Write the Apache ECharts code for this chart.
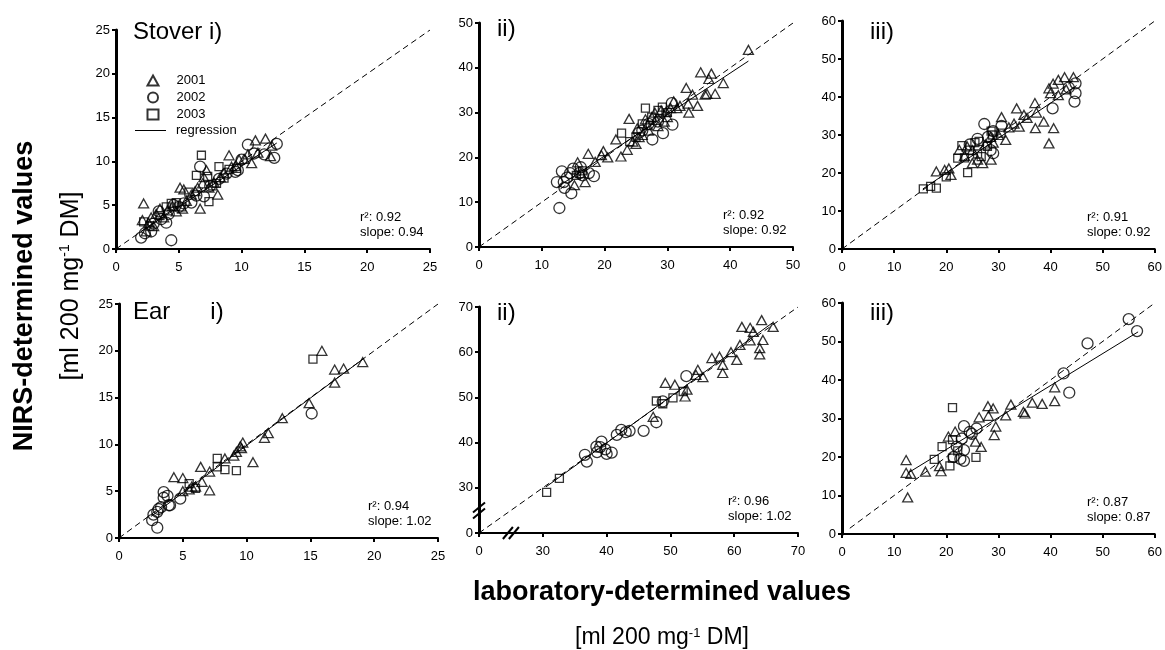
<!DOCTYPE html>
<html>
<head>
<meta charset="utf-8">
<script src="https://cdn.jsdelivr.net/npm/echarts@6/dist/echarts.min.js"></script>
<style>html,body{margin:0;padding:0;background:#fff}#c{width:1165px;height:650px}</style>
</head>
<body>
<div id="c"></div>
<script>
// ---------------- DATA ----------------
const panelTitles = ['Stover i)', 'ii)', 'iii)', 'Ear      i)', 'ii)', 'iii)'];
const r2Values = ['0.92', '0.92', '0.91', '0.94', '0.96', '0.87'];
const slopeValues = ['0.94', '0.92', '0.92', '1.02', '1.02', '0.87'];
const axisMin = [0, 0, 0, 0, 20, 0];
const axisMax = [25, 50, 60, 25, 70, 60];
const axisStep = [5, 10, 10, 5, 10, 10];
const yearNames = ['2001', '2002', '2003'];
const lineName = 'regression';

const stoverI_2001 = [[2.2,5.2],[2.1,3.3],[2.4,2.0],[2.6,3.0],[2.8,3.6],[3.0,2.6],[3.2,4.0],[3.5,4.6],[3.8,3.6],[4.1,4.4],[4.5,4.9],[4.8,4.3],[5.1,7.0],[5.4,6.8],[5.3,4.6],[5.6,5.5],[6.0,6.2],[6.3,6.6],[6.5,7.0],[6.7,4.6],[6.9,7.5],[7.0,8.2],[7.2,9.0],[7.4,7.0],[7.8,7.6],[8.1,6.2],[8.3,8.2],[8.6,8.7],[9.0,10.7],[9.2,9.4],[9.5,9.5],[9.8,10.2],[10.2,10.3],[10.5,10.8],[10.8,9.8],[11.1,12.4],[11.3,11.0],[11.9,12.6],[12.3,10.6],[12.4,11.8]];
const stoverI_2002 = [[2.0,1.3],[2.3,1.8],[2.8,2.0],[3.0,2.9],[3.4,4.3],[3.6,3.4],[4.0,3.0],[4.4,1.0],[4.2,4.0],[4.6,5.0],[5.0,4.8],[5.4,5.2],[6.0,5.3],[6.4,6.1],[6.7,9.4],[7.0,6.0],[7.5,7.2],[8.2,8.0],[8.8,8.6],[9.5,8.8],[9.7,9.0],[10.0,10.2],[10.5,11.9],[11.0,10.9],[11.8,10.8],[12.6,10.4],[12.8,12.0]];
const stoverI_2003 = [[2.2,3.1],[2.7,2.6],[3.5,3.8],[4.0,4.8],[4.4,5.2],[4.8,5.3],[5.2,4.8],[5.8,6.5],[6.4,8.4],[6.8,10.7],[7.3,8.3],[7.4,5.4],[7.7,7.2],[8.0,7.5],[8.2,9.4],[8.6,8.1],[9.0,9.1],[9.6,9.2]];
const stoverI_reg = [[2.0,2.0],[12.8,12.1]];
const stoverI_one = [[0,0],[25,25]];

const stoverII_2001 = [[15.2,13.8],[15.7,18.9],[16.9,14.5],[16.2,16.5],[17.4,20.8],[18.5,19.0],[19.5,20.5],[19.8,21.4],[20.5,20.0],[21.8,24.0],[22.6,20.2],[23.6,21.7],[23.9,28.6],[24.5,23.5],[25.0,23.0],[25.5,24.5],[26.0,25.0],[26.5,28.5],[27.0,26.0],[27.5,29.0],[28.0,30.0],[28.5,27.0],[29.0,30.5],[29.5,28.0],[30.0,29.0],[30.5,31.0],[31.0,32.5],[31.5,31.0],[32.0,31.5],[33.0,35.5],[33.3,32.0],[33.4,30.0],[34.0,34.0],[34.8,31.5],[35.3,39.0],[36.0,34.0],[36.3,34.2],[36.6,37.5],[37.0,38.7],[37.6,34.2],[38.9,36.6],[42.9,44.0],[25.2,26.5],[26.8,27.2],[28.2,28.4],[29.8,30.2]];
const stoverII_2002 = [[12.4,14.5],[12.8,8.7],[13.2,16.9],[13.5,14.5],[13.6,13.2],[14.0,15.5],[14.5,16.5],[14.7,12.0],[15.0,17.5],[16.0,16.5],[16.2,17.8],[16.5,16.0],[17.5,16.5],[18.3,15.8],[25.5,25.5],[26.0,26.0],[27.0,27.5],[27.6,24.0],[28.5,28.0],[29.3,25.4],[30.7,32.1],[30.8,27.3]];
const stoverII_2003 = [[15.5,16.0],[16.5,17.0],[22.7,25.4],[24.0,23.5],[25.0,24.5],[26.0,27.5],[26.5,31.0],[27.5,29.0],[28.5,30.5],[29.2,31.2],[30.0,30.0]];
const stoverII_reg = [[12.5,13.4],[42.9,41.5]];
const stoverII_one = [[0,0],[50,50]];

const stoverIII_2001 = [[18.1,20.4],[19.7,20.8],[20.5,21.2],[20.9,19.5],[22.5,26.1],[23.5,24.5],[24.0,27.0],[25.0,22.6],[25.0,26.0],[26.0,23.5],[27.0,22.6],[27.5,27.5],[28.5,29.5],[28.6,23.5],[29.0,28.0],[30.0,30.0],[30.6,34.7],[31.4,28.7],[32.0,32.0],[33.0,33.0],[33.5,37.0],[34.0,32.2],[34.9,35.3],[35.5,34.5],[37.0,38.4],[37.1,31.8],[37.3,35.9],[38.7,33.5],[39.7,27.8],[39.7,42.3],[40.0,41.0],[40.6,31.8],[40.5,43.5],[41.5,40.5],[41.5,44.5],[42.7,45.2],[43.0,42.0],[44.4,45.2]];
const stoverIII_2002 = [[24.5,27.5],[26.0,29.0],[27.3,32.9],[28.0,29.5],[28.5,26.0],[29.0,25.2],[29.0,31.0],[30.6,32.4],[40.4,37.0],[43.5,42.5],[44.6,38.8],[44.8,41.0],[44.8,43.6]];
const stoverIII_2003 = [[15.6,15.8],[17.0,16.5],[18.1,16.0],[20.0,19.0],[22.2,23.9],[23.0,27.2],[23.5,24.0],[24.1,20.1],[24.5,26.0],[25.5,28.0],[26.0,25.0],[26.3,28.3],[26.7,24.3],[27.9,27.0],[28.9,30.0],[28.6,31.0],[30.5,30.5]];
const stoverIII_reg = [[15.5,15.8],[45.0,43.0]];
const stoverIII_one = [[0,0],[60,60]];

const earI_2001 = [[4.3,6.5],[5.0,6.4],[5.0,5.0],[5.5,5.2],[5.7,5.5],[6.0,5.5],[6.4,7.6],[6.5,6.0],[7.1,7.1],[7.1,5.1],[8.3,8.5],[9.0,8.8],[9.2,9.2],[9.5,9.8],[9.6,9.6],[9.7,10.2],[10.5,8.1],[11.4,10.7],[11.7,11.2],[12.8,12.8],[14.9,14.4],[15.9,20.0],[16.9,16.6],[16.9,18.0],[17.6,18.1],[19.1,18.8]];
const earI_2002 = [[2.6,1.9],[2.7,2.5],[3.0,1.1],[3.0,2.8],[3.1,3.1],[3.3,3.3],[3.5,4.3],[3.5,4.9],[3.8,4.5],[3.9,3.5],[4.0,3.5],[4.8,4.2],[15.1,13.3]];
const earI_2003 = [[5.5,5.8],[6.0,5.3],[7.7,8.5],[7.7,7.6],[8.3,7.3],[9.2,7.2],[15.2,19.1]];
const earI_reg = [[2.5,2.3],[19.2,19.2]];
const earI_one = [[0,0],[25,25]];

const earII_2001 = [[47.3,45.7],[49.2,53.2],[50.7,52.8],[52.3,50.2],[52.6,51.7],[54.0,55.0],[54.3,56.1],[55.1,54.5],[56.5,58.7],[57.7,59.0],[58.2,57.2],[58.2,55.4],[59.5,60.0],[60.4,58.3],[60.9,61.6],[61.2,65.6],[62.5,65.4],[62.5,62.6],[63.0,64.5],[64.0,60.9],[64.0,59.5],[64.3,67.1],[64.5,62.7],[66.1,65.6]];
const earII_2002 = [[36.6,37.3],[36.9,35.8],[38.4,39.1],[38.5,37.9],[39.0,39.0],[39.2,40.2],[39.8,38.5],[40.0,37.5],[40.8,37.8],[41.6,41.7],[42.3,42.8],[43.0,42.3],[43.6,42.6],[45.8,42.6],[47.8,44.5],[48.8,49.1],[52.5,54.7]];
const earII_2003 = [[30.6,29.0],[32.6,32.1],[47.8,49.2],[48.8,48.6],[50.4,49.9],[52.0,51.3]];
const earII_reg = [[30.5,30.2],[66.0,66.5]];
const earII_one = [[20,20],[70,70]];

const earIII_2001 = [[12.3,19.2],[12.3,15.9],[12.6,9.5],[13.2,15.6],[16.0,16.2],[18.7,17.6],[19.0,16.3],[20.4,25.3],[21.7,26.6],[25.6,24.0],[26.3,30.3],[26.7,22.6],[28.0,33.2],[28.1,30.7],[29.0,32.6],[29.2,25.7],[29.5,27.9],[31.4,30.8],[32.4,33.6],[34.8,31.7],[35.1,31.3],[36.5,34.1],[38.4,33.8],[40.8,38.1],[40.8,34.5]];
const earIII_2002 = [[21.4,20.0],[22.0,22.7],[22.7,19.5],[23.0,24.8],[23.4,28.0],[23.4,21.8],[23.4,19.0],[24.5,26.5],[24.9,26.0],[25.8,27.4],[42.5,41.7],[43.6,36.7],[47.1,49.5],[55.0,55.8],[56.6,52.7]];
const earIII_2003 = [[17.7,19.4],[19.2,22.7],[20.7,17.7],[21.2,32.8],[21.2,24.5],[21.2,19.7],[22.2,21.6],[25.7,19.9]];
const earIII_reg = [[12.6,15.8],[56.8,52.5]];
const earIII_one = [[1.5,1.5],[60,60]];

// ---------------- LAYOUT ----------------
const FONT = '"Liberation Sans", Arial, sans-serif';
const grids = [
  {left:116, top:30, width:314, height:219},
  {left:479, top:23, width:314, height:224},
  {left:842, top:21, width:315, height:228},
  {left:119, top:304, width:319, height:234},
  {left:479, top:307, width:319, height:226},
  {left:842, top:303, width:315, height:231}
];
const titleOffset = [17, 18, 28, 14, 18, 28];
const titleY = [32, 29, 32, 312, 313, 313];

const panels = [
  [stoverI_2001, stoverI_2002, stoverI_2003, stoverI_reg, stoverI_one],
  [stoverII_2001, stoverII_2002, stoverII_2003, stoverII_reg, stoverII_one],
  [stoverIII_2001, stoverIII_2002, stoverIII_2003, stoverIII_reg, stoverIII_one],
  [earI_2001, earI_2002, earI_2003, earI_reg, earI_one],
  [earII_2001, earII_2002, earII_2003, earII_reg, earII_one],
  [earIII_2001, earIII_2002, earIII_2003, earIII_reg, earIII_one]
];

const symbols = [['triangle', [10, 9]], ['circle', 11], ['rect', 8]];
const hollow = {color: 'rgba(255,255,255,0)', borderColor: '#000', borderWidth: 1.3};

const xAxes = [], yAxes = [], series = [], graphics = [];
grids.forEach((g, i) => {
  const fmt = v => (axisMin[i] === 20 && v === 20) ? '0' : String(v);
  const common = {
    gridIndex: i, type: 'value', min: axisMin[i], max: axisMax[i], interval: axisStep[i],
    splitLine: {show: false},
    axisTick: {show: true, length: 4, lineStyle: {color: '#000', width: 2}},
    axisLabel: {color: '#000', fontFamily: FONT, fontSize: 13, formatter: fmt}
  };
  xAxes.push(Object.assign({}, common, {
    axisLine: {show: true, onZero: false, lineStyle: {color: '#000', width: 2}},
    axisLabel: Object.assign({}, common.axisLabel, {margin: 12})
  }));
  yAxes.push(Object.assign({}, common, {
    axisLine: {show: true, onZero: false, lineStyle: {color: '#000', width: 3}},
    axisLabel: Object.assign({}, common.axisLabel, {margin: 6})
  }));
  const p = panels[i];
  series.push({
    name: '1:1', type: 'line', xAxisIndex: i, yAxisIndex: i, data: p[4], symbol: 'none',
    lineStyle: {color: '#000', width: 1, type: [6, 4]}, itemStyle: {color: '#000'}, silent: true, z: 2
  });
  series.push({
    name: lineName, type: 'line', xAxisIndex: i, yAxisIndex: i, data: p[3], symbol: 'none',
    lineStyle: {color: '#000', width: 1}, itemStyle: {color: '#000'}, silent: true, z: 2
  });
  for (let k = 0; k < 3; k++) {
    series.push({
      name: yearNames[k], type: 'scatter', xAxisIndex: i, yAxisIndex: i, data: p[k],
      symbol: symbols[k][0], symbolSize: symbols[k][1], itemStyle: hollow, z: 3
    });
  }
  graphics.push({
    type: 'text', silent: true,
    style: {text: panelTitles[i], x: g.left + titleOffset[i], y: titleY[i], fill: '#000',
      font: '24px ' + FONT, verticalAlign: 'middle'}
  });
  const bottom = g.top + g.height;
  const sx = g.left + g.width - 70;
  graphics.push({type: 'text', silent: true,
    style: {text: 'r\u00b2: ' + r2Values[i], x: sx, y: bottom - 32, fill: '#000', font: '13px ' + FONT, verticalAlign: 'middle'}});
  graphics.push({type: 'text', silent: true,
    style: {text: 'slope: ' + slopeValues[i], x: sx, y: bottom - 17, fill: '#000', font: '13px ' + FONT, verticalAlign: 'middle'}});
});

graphics.push({type: 'text', silent: true, rotation: Math.PI / 2, x: 25, y: 296,
  style: {text: 'NIRS-determined values', x: 0, y: 0, fill: '#000', font: 'bold 27px ' + FONT, align: 'center', verticalAlign: 'middle'}});
graphics.push({type: 'text', silent: true, rotation: Math.PI / 2, x: 71, y: 286,
  style: {text: '[ml 200 mg{sup|-1} DM]', x: 0, y: 0, fill: '#000', font: '25px ' + FONT, align: 'center', verticalAlign: 'middle',
    rich: {sup: {fontSize: 14, fontFamily: FONT, verticalAlign: 'top', fill: '#000'}}}});
graphics.push({type: 'text', silent: true, x: 662, y: 593,
  style: {text: 'laboratory-determined values', x: 0, y: 0, fill: '#000', font: 'bold 27px ' + FONT, align: 'center', verticalAlign: 'middle'}});
graphics.push({type: 'text', silent: true, x: 662, y: 638,
  style: {text: '[ml 200 mg{sup|-1} DM]', x: 0, y: 0, fill: '#000', font: '23px ' + FONT, align: 'center', verticalAlign: 'middle',
    rich: {sup: {fontSize: 13, fontFamily: FONT, verticalAlign: 'top', fill: '#000'}}}});

const chart = echarts.init(document.getElementById('c'), null, {renderer: 'canvas'});
chart.setOption({
  animation: false,
  backgroundColor: '#fff',
  grid: grids.map(g => Object.assign({containLabel: false}, g)),
  xAxis: xAxes,
  yAxis: yAxes,
  legend: [
    {
      data: yearNames, orient: 'vertical', left: 146.5, top: 74, itemWidth: 11, itemHeight: 10, itemGap: 4,
      selectedMode: false, padding: 0,
      textStyle: {fontFamily: FONT, fontSize: 13, lineHeight: 10, color: '#000', padding: [0, 0, 0, 13]}
    },
    {
      data: [lineName], orient: 'vertical', left: 135, top: 124, itemWidth: 31, itemHeight: 1, icon: 'rect',
      selectedMode: false, padding: 0, itemStyle: {color: '#000', borderWidth: 0},
      textStyle: {fontFamily: FONT, fontSize: 13, lineHeight: 13, color: '#000', padding: [0, 0, 0, 5]}
    }
  ],
  series: series,
  graphic: graphics
});

// axis break marks on the Ear ii) panel, placed via the panel's own scales
const bx = chart.convertToPixel({gridIndex: 4}, [25, 20]);
const by = chart.convertToPixel({gridIndex: 4}, [20, 25]);
const brk = [];
[-3, 3].forEach(o => {
  brk.push({type: 'line', silent: true, z: 100, shape: {x1: bx[0] + o - 5, y1: bx[1] + 6, x2: bx[0] + o + 5, y2: bx[1] - 6}, style: {stroke: '#000', lineWidth: 2}});
  brk.push({type: 'line', silent: true, z: 100, shape: {x1: by[0] - 6, y1: by[1] + o + 5, x2: by[0] + 6, y2: by[1] + o - 5}, style: {stroke: '#000', lineWidth: 2}});
});
chart.setOption({graphic: graphics.concat(brk)});
</script>
</body>
</html>
